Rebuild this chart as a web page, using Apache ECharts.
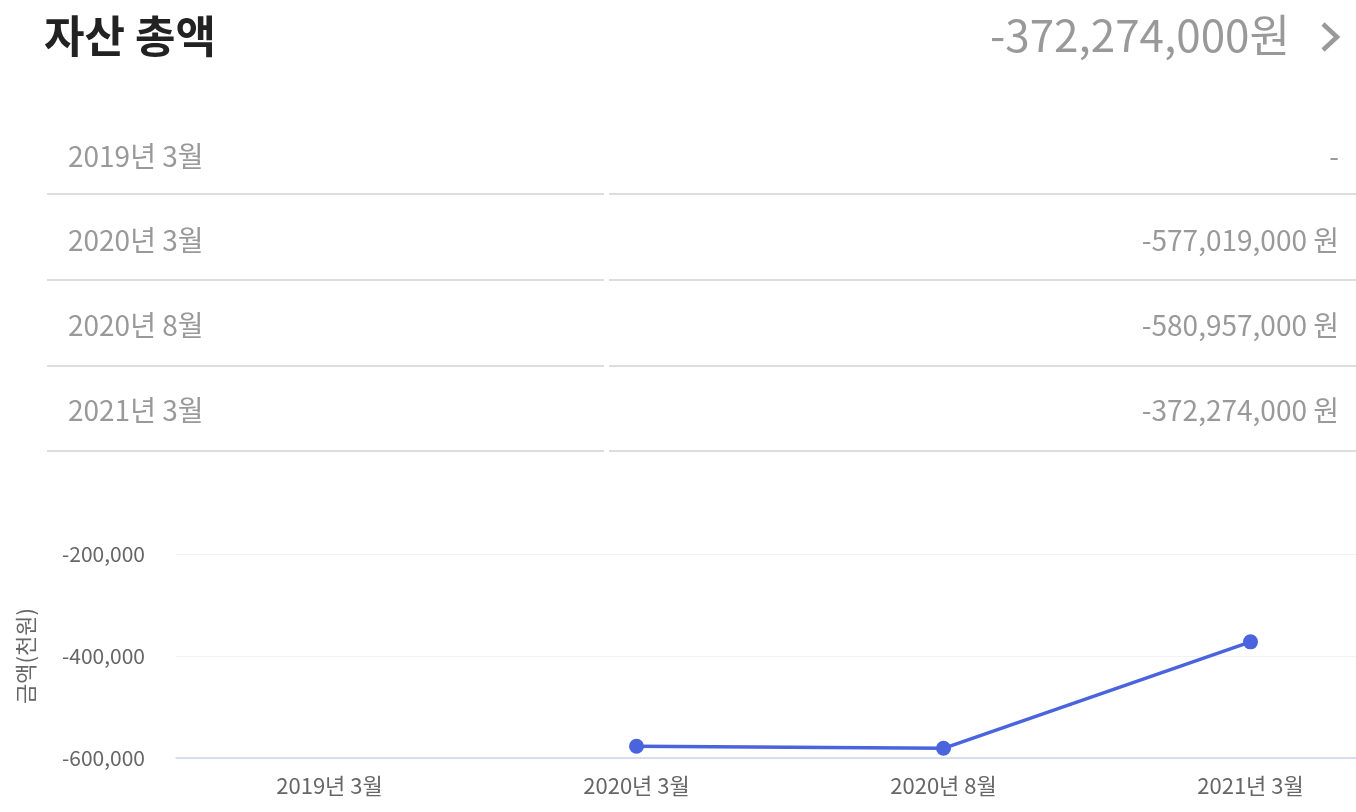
<!DOCTYPE html>
<html>
<head>
<meta charset="utf-8">
<script src="https://cdn.jsdelivr.net/npm/echarts@6/dist/echarts.min.js"></script>
<style>
  html, body { margin:0; padding:0; width:1356px; height:812px; overflow:hidden; background:#fff;
    font-family:"Noto Sans CJK KR","Noto Sans",sans-serif; }
  #chart { position:absolute; left:0; top:0; width:1404px; height:812px; }
  .t { position:absolute; white-space:nowrap; line-height:1; }
  #title { left:44px; top:12px; font-size:44px; font-weight:700; color:#222; }
  #total { right:66px; top:11px; font-size:44px; color:#999; }
  #chev { position:absolute; left:1316px; top:20px; }
  .rowL { left:68px; font-size:28px; color:#999; }
  .rowR { right:17px; font-size:28px; color:#999; }
  .sep { position:absolute; height:2px; background:#ddd; }
</style>
</head>
<body>
<div id="chart"></div>
<div id="overlay"></div>
<script>
const categories = ['2019년 3월', '2020년 3월', '2020년 8월', '2021년 3월'];
const valuesWon = [null, -577019000, -580957000, -372274000];
const valuesThousand = [null, -577019, -580957, -372274];
const yTicks = [-600000, -400000, -200000];
const titleText = '자산 총액';
const yName = '금액(천원)';

function fmt(n) { return n.toLocaleString('en-US'); }

const ov = document.getElementById('overlay');
let html = '';
html += '<div class="t" id="title">' + titleText + '</div>';
const last = valuesWon[valuesWon.length - 1];
html += '<div class="t" id="total">' + fmt(last) + '원</div>';
html += '<svg id="chev" width="28" height="34" viewBox="0 0 28 34"><polyline points="7,4 21,17 7,30" fill="none" stroke="#999" stroke-width="4.5"/></svg>';
const centers = [157, 241, 326, 411];
const lines = [194, 280, 366, 451];
categories.forEach((c, i) => {
  const top = centers[i] - 16;
  html += '<div class="t rowL" style="top:' + top + 'px">' + c + '</div>';
  const v = valuesWon[i] == null ? '-' : fmt(valuesWon[i]) + ' 원';
  html += '<div class="t rowR" style="top:' + top + 'px">' + v + '</div>';
  html += '<div class="sep" style="left:47px;width:557px;top:' + (lines[i]-1) + 'px"></div>';
  html += '<div class="sep" style="left:609px;width:747px;top:' + (lines[i]-1) + 'px"></div>';
});
ov.innerHTML = html;

const chart = echarts.init(document.getElementById('chart'), null, { renderer: 'canvas' });
chart.setOption({
  animation: false,
  textStyle: { fontFamily: '"Noto Sans CJK KR","Noto Sans",sans-serif' },
  grid: { left: 176, right: 0, top: 554, bottom: 54 },
  xAxis: {
    type: 'category',
    data: categories,
    boundaryGap: true,
    axisTick: { show: false },
    axisLine: { lineStyle: { color: '#ccd6eb', width: 1.5 } },
    axisLabel: { color: '#666', fontSize: 22, margin: 17 }
  },
  yAxis: {
    type: 'value',
    min: yTicks[0],
    max: yTicks[yTicks.length - 1],
    interval: yTicks[1] - yTicks[0],
    name: yName,
    nameLocation: 'middle',
    nameGap: 139,
    nameTextStyle: { color: '#666', fontSize: 22 },
    axisLine: { show: false },
    axisTick: { show: false },
    splitLine: { lineStyle: { color: '#f2f2f2', width: 1 } },
    axisLabel: { color: '#666', fontSize: 21, margin: 31, formatter: v => fmt(v) }
  },
  series: [{
    type: 'line',
    data: valuesThousand,
    color: '#4a64dd',
    lineStyle: { width: 3.5, color: '#4a64dd' },
    symbol: 'circle',
    symbolSize: 15,
    itemStyle: { color: '#4a64dd' }
  }]
});
</script>
</body>
</html>
